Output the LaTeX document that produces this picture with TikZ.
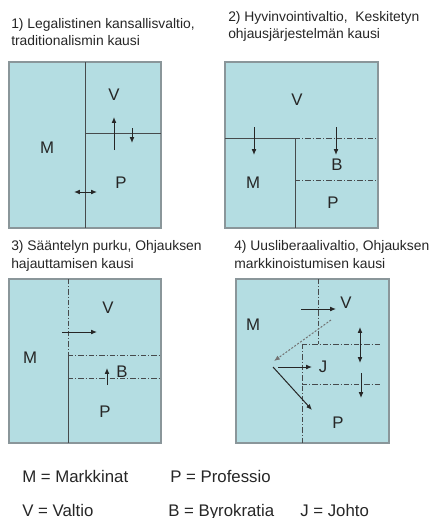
\documentclass[tikz,border=0pt]{standalone}
\usepackage{fontspec}
\setmainfont{Liberation Sans}
\usetikzlibrary{arrows.meta, positioning, calc}

\definecolor{areafill}{RGB}{180,221,226}
\definecolor{areaedge}{RGB}{138,150,154}
\definecolor{divline}{RGB}{70,74,76}

\begin{document}
\begin{tikzpicture}[
    x=0.75pt, y=-0.75pt,
    % Node styles
    area/.style={
        draw=areaedge, line width=0.9pt, fill=areafill,
    },
    title/.style={
        anchor=base west, inner sep=0pt, text=black!85,
        font=\fontsize{10.4}{12}\selectfont,
    },
    actor/.style={
        inner sep=0pt, text=black!85,
        font=\fontsize{12.6}{14}\selectfont,
    },
    legend/.style={
        anchor=base west, inner sep=0pt, text=black!85,
        font=\fontsize{12.6}{14}\selectfont,
    },
    border/.style={
        draw=divline, line width=0.75pt,
    },
    loose/.style={
        draw=divline, line width=0.6pt,
        dash pattern=on 4pt off 1.5pt on 0.8pt off 1.5pt,
    },
    flow/.style={
        draw=black!85, line width=0.75pt, -{Latex[length=4.4pt, width=3.6pt]},
    },
    twoway/.style={
        draw=black!85, line width=0.75pt,
        {Latex[length=4.4pt, width=3.6pt]}-{Latex[length=4.4pt, width=3.6pt]},
    },
]
\useasboundingbox (0,0) rectangle (442,518);

% === Titles ===
\node[title] (t1a) at (11,28)  {1) Legalistinen kansallisvaltio,};
\node[title] (t1b) at (11,45)  {traditionalismin kausi};
\node[title] (t2a) at (228,21) {2) Hyvinvointivaltio,\ \ Keskitetyn};
\node[title] (t2b) at (228,38) {ohjausjärjestelmän kausi};
\node[title] (t3a) at (11,250) {3) Sääntelyn purku, Ohjauksen};
\node[title] (t3b) at (11,268) {hajauttamisen kausi};
\node[title] (t4a) at (234,250) {4) Uusliberaalivaltio, Ohjauksen};
\node[title] (t4b) at (234,268) {markkinoistumisen kausi};

% === 1) Legalistinen ===
\filldraw[area] (9,62) rectangle (161,228);
\draw[border] (85,62) -- (85,228);
\draw[border] (85,133) -- (161,133);
\node[actor] (m1) at (47,148)  {M};
\node[actor] (v1) at (114,95)  {V};
\node[actor] (p1) at (121,183) {P};
\draw[flow]   (114,150) -- (114,117);
\draw[flow]   (132,128) -- (132,143);
\draw[twoway] (74,192) -- (97,192);

% === 2) Hyvinvointivaltio ===
\filldraw[area] (225,62) rectangle (378,228);
\draw[border] (225,138) -- (295,138) -- (295,228);
\draw[loose]  (295,138) -- (378,138);
\draw[loose]  (295,180) -- (378,180);
\node[actor] (v2) at (297,100) {V};
\node[actor] (m2) at (253,183) {M};
\node[actor] (b2) at (337,165) {B};
\node[actor] (p2) at (333,203) {P};
\draw[flow] (254,127) -- (254,155);
\draw[flow] (336,127) -- (336,155);

% === 3) Sääntelyn purku ===
\filldraw[area] (9,279) rectangle (161,443);
\draw[loose]  (68,279) -- (68,355);
\draw[border] (68,355) -- (68,443);
\draw[loose]  (68,355) -- (161,355);
\draw[loose]  (68,378) -- (161,378);
\node[actor] (v3) at (108,308) {V};
\node[actor] (m3) at (30,358)  {M};
\node[actor] (b3) at (122,372) {B};
\node[actor] (p3) at (105,412) {P};
\draw[flow] (62,332) -- (97,332);
\draw[flow] (107,385) -- (107,368);

% === 4) Uusliberaalivaltio ===
\filldraw[area] (236,279) rectangle (389,443);
\draw[loose] (318,279) -- (318,344);
\draw[loose] (302,344) -- (381,344);
\draw[loose] (302,344) -- (302,443);
\draw[loose] (302,384) -- (381,384);
\node[actor] (v4) at (346,303) {V};
\node[actor] (m4) at (253,325) {M};
\node[actor] (j4) at (323,367) {J};
\node[actor] (p4) at (338,423) {P};
\draw[flow] (301,309) -- (336,309);
\draw[flow, draw=black!55, dash pattern=on 1.5pt off 1.2pt] (331,320) -- (274,361);
\draw[flow] (278,367) -- (312,367);
\draw[flow] (273,367) -- (312,410);
\draw[twoway] (360,327) -- (360,363);
\draw[flow] (361,373) -- (361,398);

% === Legend ===
\node[legend] (lm) at (22,482)  {M = Markkinat};
\node[legend] (lp) at (170,482) {P = Professio};
\node[legend] (lv) at (22,516)  {V = Valtio};
\node[legend] (lb) at (168,516) {B = Byrokratia};
\node[legend] (lj) at (300,516) {J = Johto};

\end{tikzpicture}
\end{document}
